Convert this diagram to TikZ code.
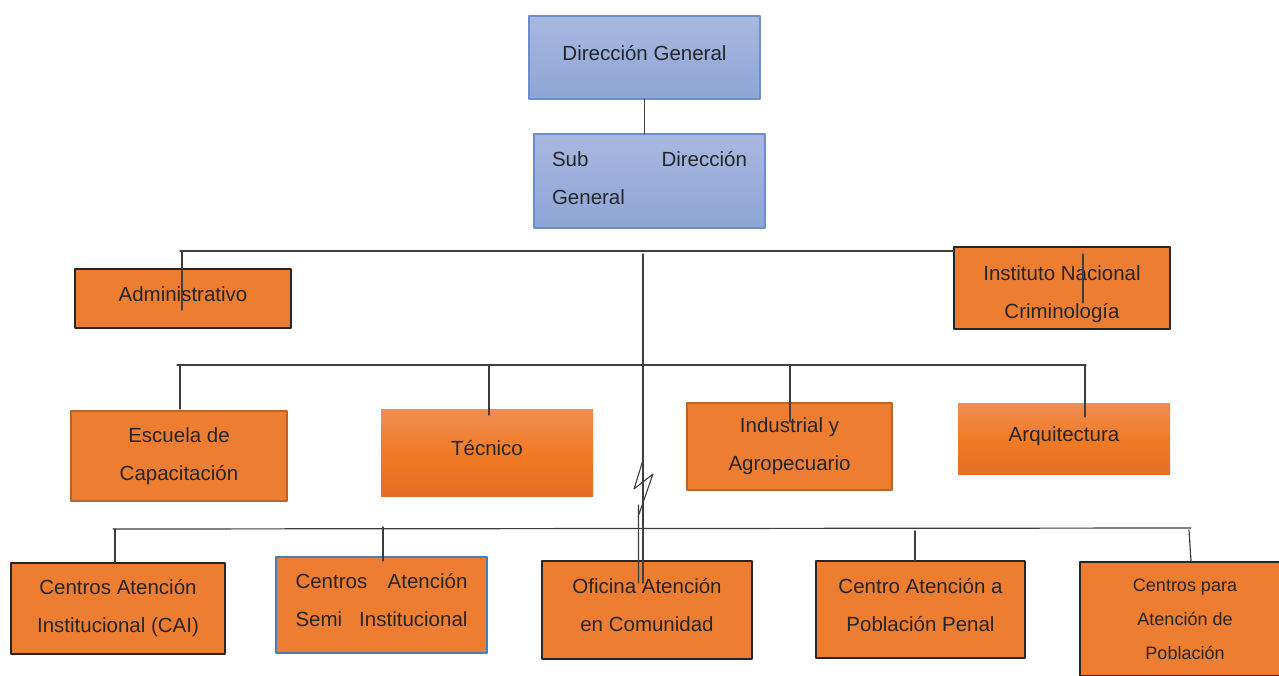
\documentclass[tikz,border=0pt]{standalone}
\usepackage{fontspec}
\setmainfont{Liberation Sans}
\definecolor{naranja}{RGB}{237,125,49}
\definecolor{naranjaclaro}{RGB}{240,141,85}
\definecolor{naranjamedio}{RGB}{240,123,36}
\definecolor{naranjaoscuro}{RGB}{229,109,37}
\definecolor{marron}{RGB}{181,101,46}
\definecolor{azulclaro}{RGB}{168,184,224}
\definecolor{azuloscuro}{RGB}{142,165,214}
\definecolor{azulborde}{RGB}{108,142,206}
\definecolor{bordeazul}{RGB}{74,126,187}
\definecolor{oscuro}{RGB}{38,38,38}
\definecolor{linea}{RGB}{62,62,62}
\begin{document}
\begin{tikzpicture}[x=1pt, y=-1pt, line join=round, line cap=round,
  font=\fontsize{20.5}{38}\selectfont,
  caja/.style={rectangle, fill=naranja, text=oscuro, align=center, inner sep=0pt, outer sep=0pt},
  cajaosc/.style={caja, draw=oscuro, line width=2.5pt},
  cajamar/.style={caja, draw=marron, line width=2pt},
  cajaazb/.style={caja, draw=bordeazul, line width=2pt},
  cajagrad/.style={caja, top color=naranjaclaro, bottom color=naranjaoscuro, middle color=naranjamedio},
  cajaazul/.style={caja, top color=azulclaro, bottom color=azuloscuro, draw=azulborde, line width=1.2pt},
  conector/.style={draw=linea, line width=1.2pt}]
\useasboundingbox (0,0) rectangle (1279,675);
\clip (0,0) rectangle (1279,675);
% direccion
\node[cajaazul, minimum width=231pt, minimum height=83pt, text depth=10pt] (dg) at (644.5,57.5) {Dirección General};
\node[cajaazul, minimum width=231pt, minimum height=94pt, text width=195pt, align=left, text depth=45pt] (sdg) at (649.5,181) {Sub\hfill Dirección\\General};
% primer nivel
\node[cajaosc, minimum width=216pt, minimum height=59pt, text depth=8pt] (adm) at (183,298.5) {Administrativo};
\node[cajaosc, minimum width=216pt, minimum height=82pt, text height=65pt] (inst) at (1062,288) {Instituto Nacional\\Criminología};
% segundo nivel
\node[cajamar, minimum width=216pt, minimum height=90pt] (esc) at (179,456) {Escuela de\\Capacitación};
\node[cajagrad, minimum width=212pt, minimum height=87pt, text depth=10pt] (tec) at (487,452.5) {Técnico};
\node[cajamar, minimum width=205pt, minimum height=87pt] (ind) at (789.5,446.5) {Industrial y\\Agropecuario};
\node[cajagrad, minimum width=212pt, minimum height=71pt, text depth=8.3pt] (arq) at (1064,438.5) {Arquitectura};
% tercer nivel
\node[cajaosc, minimum width=214pt, minimum height=91pt] (cai) at (118,608.5) {Centros Atención\\Institucional (CAI)};
\node[cajaazb, minimum width=211pt, minimum height=96pt, text width=172pt, align=left, text depth=49pt] (semi) at (381.5,605) {Centros\hfill Atención\\Semi\hfill Institucional};
\node[cajaosc, minimum width=210pt, minimum height=98pt, text depth=10pt] (ofi) at (647,610) {Oficina Atención\\en Comunidad};
\node[cajaosc, minimum width=209pt, minimum height=97pt, text depth=9pt] (pen) at (920.5,609.5) {Centro Atención a\\Población Penal};
\node[cajaosc, minimum width=210pt, minimum height=114pt, font=\fontsize{18}{34}\selectfont] (cpa) at (1185,619) {Centros para\\Atención de\\Población};
% lineas
\path (180,251) coordinate (b1) (643,254) coordinate (t0) (643,583) coordinate (t1)
(177,365) coordinate (b2) (1086,365) coordinate (b2r)
(113,529) coordinate (b3) (1191,528) coordinate (b3r)
(1083,254) coordinate (i1) (1083,303) coordinate (i2);
\draw[conector] (dg.south) -- (dg.south |- sdg.north);
\draw[conector] (b1) -- (b1 -| inst.west);
\draw[conector] (182,251) -- (182,310);
\draw[conector] (i1) -- (i2);
\draw[conector] (t0) -- (t1);
\draw[draw=linea, line width=1.1pt] (643,460) -- (634,489) -- (653,474) -- (638,517) (638.5,505) -- (638.5,583);
\draw[conector] (b2) -- (b2r);
\foreach \x/\e in {180/409, 489/415, 790/422, 1085/417}{\draw[conector] (\x,365) -- (\x,\e);}
\draw[conector] (b3) -- (b3r);
\foreach \x/\s/\e in {115/529/562, 383/527/561, 915/531/561}{\draw[conector] (\x,\s) -- (\x,\e);}
\draw[conector] (1189,530) -- (1191,561);
\end{tikzpicture}
\end{document}
